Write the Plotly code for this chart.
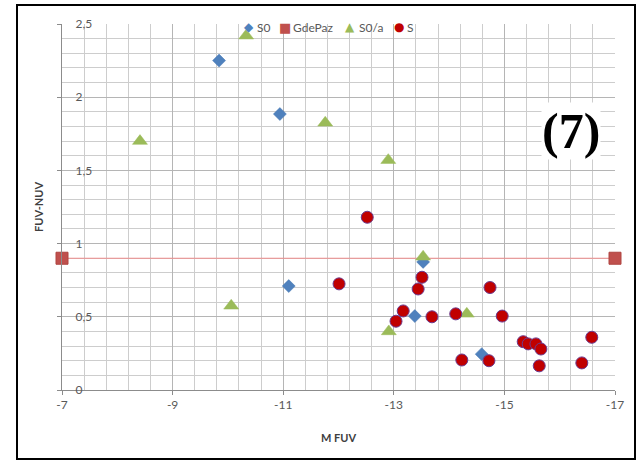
import plotly.graph_objects as go

# ---- data -------------------------------------------------------------
s0_mfuv = [-9.84, -10.94, -11.10, -13.53, -13.38, -14.59]
s0_color = [2.25, 1.885, 0.71, 0.875, 0.505, 0.245]

s0a_mfuv = [-10.33, -8.41, -11.76, -12.90, -10.06, -13.53, -14.32, -12.91]
s0a_color = [2.42, 1.70, 1.825, 1.57, 0.575, 0.91, 0.52, 0.40]

s_mfuv = [-12.52, -12.01, -13.51, -13.44, -13.17, -13.04, -13.69, -14.12,
          -14.74, -14.96, -14.23, -14.72, -15.34, -15.43, -15.57, -15.66,
          -15.63, -16.40, -16.58]
s_color = [1.18, 0.725, 0.77, 0.69, 0.54, 0.47, 0.50, 0.52,
           0.70, 0.505, 0.205, 0.20, 0.33, 0.315, 0.315, 0.28,
           0.165, 0.185, 0.36]

gdepaz_mfuv = [-7, -17]
gdepaz_color = [0.9, 0.9]

x_ticks = [-7, -9, -11, -13, -15, -17]
x_ticktext = ["-7", "-9", "-11", "-13", "-15", "-17"]

# minor grid spacing (5 subdivisions per major step)
x_minor = [round(-7 - 0.4 * i, 2) for i in range(26)]
y_minor = [round(0.1 * i, 2) for i in range(26)]

# ---- layout geometry (pixels) ----------------------------------------
W, H = 640, 462
L, R, T, B = 62, 615, 24, 390
PW, PH = R - L, B - T


def px(x):
    return (x - L) / PW


def py(y):
    return (B - y) / PH


TICK_FONT = dict(family="Lato, Open Sans, sans-serif", size=12, color="#595959")
TITLE_FONT = dict(family="Lato, Open Sans, sans-serif", size=11, color="#404040")

fig = go.Figure()

fig.add_trace(go.Scatter(
    x=gdepaz_mfuv, y=gdepaz_color, mode="lines+markers", name="GdePaz",
    line=dict(color="#EE8C8C", width=1.2),
    marker=dict(symbol="square", size=12, color="#C0504D",
                line=dict(color="#B04440", width=1)),
    cliponaxis=False,
))
fig.add_trace(go.Scatter(
    x=s0_mfuv, y=s0_color, mode="markers", name="S0",
    marker=dict(symbol="diamond", size=10, color="#4F81BD",
                line=dict(color="#4A7AB5", width=0.5)),
    cliponaxis=False,
))
fig.add_trace(go.Scatter(
    x=s0a_mfuv, y=s0a_color, mode="markers", name="S0/a",
    marker=dict(symbol="triangle-up", size=13, color="#9BBB59",
                line=dict(color="#9BBB59", width=0.5)),
    cliponaxis=False,
))
fig.add_trace(go.Scatter(
    x=s_mfuv, y=s_color, mode="markers", name="S",
    marker=dict(symbol="circle", size=12, color="#C00000",
                line=dict(color="#6B3A8E", width=1)),
    cliponaxis=False,
))

annotations = []

# legend row drawn as coloured glyphs + labels
legend_items = [
    ("◆", "#4F81BD", 12, 249, "S0", 255),
    ("■", "#C0504D", 13, 285, "GdePaz", 291),
    ("▲", "#9BBB59", 12, 350, "S0/a", 357),
    ("●", "#C00000", 12, 399, "S", 405),
]
for glyph, col, gsize, gx, label, tx in legend_items:
    annotations.append(dict(
        xref="paper", yref="paper", x=px(gx), y=py(27), text=glyph,
        showarrow=False, xanchor="center", yanchor="middle",
        font=dict(family="DejaVu Sans", size=gsize, color=col)))
    annotations.append(dict(
        xref="paper", yref="paper", x=px(tx), y=py(27), text=label,
        showarrow=False, xanchor="left", yanchor="middle",
        font=TICK_FONT))

# axis titles
annotations.append(dict(
    xref="paper", yref="paper", x=px(338), y=py(437), text="<b>M FUV</b>",
    showarrow=False, xanchor="center", yanchor="middle", font=TITLE_FONT))
annotations.append(dict(
    xref="paper", yref="paper", x=px(38), y=py(207), text="<b>FUV-NUV</b>",
    showarrow=False, xanchor="center", yanchor="middle", textangle=-90,
    font=TITLE_FONT))

# panel label
annotations.append(dict(
    xref="paper", yref="paper", x=px(571), y=py(131), text="<b>(7)</b>",
    showarrow=False, xanchor="center", yanchor="middle", bgcolor="white",
    borderpad=0,
    font=dict(family="Liberation Serif, Times New Roman, serif", size=50,
              color="black")))

fig.update_layout(
    width=W, height=H,
    margin=dict(l=L, r=W - R, t=T, b=H - B, autoexpand=False),
    paper_bgcolor="white", plot_bgcolor="white",
    separators=",.",
    showlegend=False,
    annotations=annotations,
    shapes=[dict(
        type="rect", xref="paper", yref="paper",
        x0=px(17), x1=px(635), y0=py(459), y1=py(5),
        line=dict(color="black", width=2), fillcolor="rgba(0,0,0,0)",
        layer="above")],
)

fig.update_xaxes(
    range=[-7, -17], tickmode="array", tickvals=x_ticks, ticktext=x_ticktext,
    showgrid=True, gridcolor="#B5B5B5", gridwidth=1,
    minor=dict(tickmode="array", tickvals=x_minor, showgrid=True,
               gridcolor="#CDCDCD", gridwidth=1, ticks=""),
    showline=True, linecolor="#8C8C8C", linewidth=1,
    ticks="outside", ticklen=4, tickcolor="#8C8C8C",
    ticklabeloverflow="allow",
    tickfont=TICK_FONT, zeroline=False, fixedrange=True,
)
fig.update_yaxes(
    range=[0, 2.5], tickmode="linear", dtick=0.5, tick0=0,
    showgrid=True, gridcolor="#B5B5B5", gridwidth=1,
    minor=dict(tickmode="array", tickvals=y_minor, showgrid=True,
               gridcolor="#CDCDCD", gridwidth=1, ticks=""),
    showline=True, linecolor="#8C8C8C", linewidth=1,
    ticks="outside", ticklen=4, tickcolor="#8C8C8C",
    ticklabelposition="inside", ticklabelstandoff=13,
    ticklabeloverflow="allow",
    tickfont=TICK_FONT, zeroline=False, fixedrange=True,
)

fig.write_html("out.html")
